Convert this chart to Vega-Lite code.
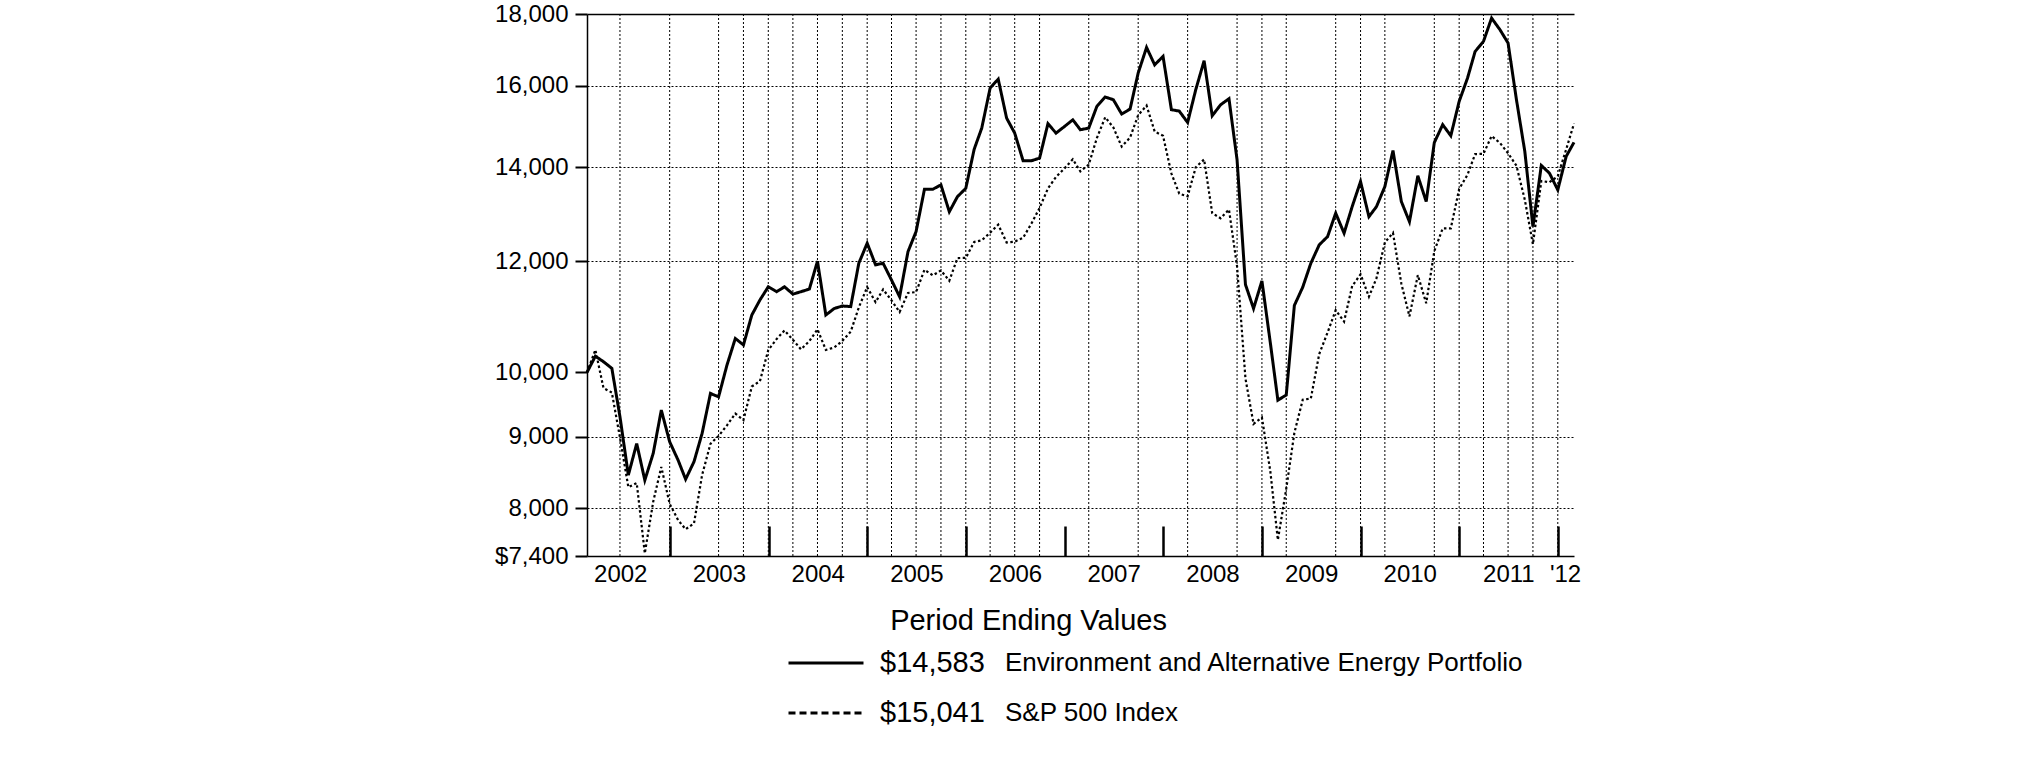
{
  "$schema": "https://vega.github.io/schema/vega-lite/v6.json",
  "width": 987,
  "height": 542,
  "autosize": {"type": "none"},
  "padding": {"left": 587, "top": 14, "right": 451, "bottom": 205},
  "background": "white",
  "config": {"view": {"stroke": null}, "font": "Liberation Sans"},
  "datasets": {
    "series": [
      {"key": "fund", "name": "Environment and Alternative Energy Portfolio", "ending": "$14,583"},
      {"key": "sp", "name": "S&P 500 Index", "ending": "$15,041"}
    ],
    "grid": [
      {"date": "2002-06-30"}, {"date": "2002-12-31"}, {"date": "2003-06-30"}, {"date": "2003-09-30"},
      {"date": "2003-12-31"}, {"date": "2004-03-31"}, {"date": "2004-06-30"}, {"date": "2004-09-30"},
      {"date": "2004-12-31"}, {"date": "2005-03-31"}, {"date": "2005-06-30"}, {"date": "2005-09-30"},
      {"date": "2005-12-31"}, {"date": "2006-03-31"}, {"date": "2006-06-30"}, {"date": "2006-09-30"},
      {"date": "2007-03-31"}, {"date": "2007-09-30"}, {"date": "2008-03-31"}, {"date": "2008-09-30"},
      {"date": "2008-12-31"}, {"date": "2009-03-31"}, {"date": "2009-09-30"}, {"date": "2009-12-31"},
      {"date": "2010-03-31"}, {"date": "2010-09-30"}, {"date": "2010-12-31"}, {"date": "2011-03-31"},
      {"date": "2011-06-30"}, {"date": "2011-09-30"}, {"date": "2011-12-31"}
    ],
    "perf": [
      {"date": "2002-02-28", "fund": 10000, "sp": 10000},
      {"date": "2002-03-31", "fund": 10270, "sp": 10376},
      {"date": "2002-04-30", "fund": 10177, "sp": 9747},
      {"date": "2002-05-31", "fund": 10067, "sp": 9675},
      {"date": "2002-06-30", "fund": 9300, "sp": 8986},
      {"date": "2002-07-31", "fund": 8450, "sp": 8285},
      {"date": "2002-08-31", "fund": 8899, "sp": 8340},
      {"date": "2002-09-30", "fund": 8380, "sp": 7433},
      {"date": "2002-10-31", "fund": 8755, "sp": 8088},
      {"date": "2002-11-30", "fund": 9400, "sp": 8564},
      {"date": "2002-12-31", "fund": 8924, "sp": 8061},
      {"date": "2003-01-31", "fund": 8661, "sp": 7850},
      {"date": "2003-02-28", "fund": 8393, "sp": 7732},
      {"date": "2003-03-31", "fund": 8637, "sp": 7807},
      {"date": "2003-04-30", "fund": 9048, "sp": 8451},
      {"date": "2003-05-31", "fund": 9661, "sp": 8896},
      {"date": "2003-06-30", "fund": 9607, "sp": 9010},
      {"date": "2003-07-31", "fund": 10120, "sp": 9168},
      {"date": "2003-08-31", "fund": 10573, "sp": 9347},
      {"date": "2003-09-30", "fund": 10460, "sp": 9248},
      {"date": "2003-10-31", "fund": 10987, "sp": 9771},
      {"date": "2003-11-30", "fund": 11260, "sp": 9857},
      {"date": "2003-12-31", "fund": 11508, "sp": 10374},
      {"date": "2004-01-31", "fund": 11415, "sp": 10565},
      {"date": "2004-02-29", "fund": 11508, "sp": 10712},
      {"date": "2004-03-31", "fund": 11370, "sp": 10550},
      {"date": "2004-04-30", "fund": 11415, "sp": 10385},
      {"date": "2004-05-31", "fund": 11465, "sp": 10527},
      {"date": "2004-06-30", "fund": 12000, "sp": 10731},
      {"date": "2004-07-31", "fund": 10987, "sp": 10376},
      {"date": "2004-08-31", "fund": 11105, "sp": 10417},
      {"date": "2004-09-30", "fund": 11150, "sp": 10530},
      {"date": "2004-10-31", "fund": 11140, "sp": 10691},
      {"date": "2004-11-30", "fund": 11960, "sp": 11124},
      {"date": "2004-12-31", "fund": 12360, "sp": 11502},
      {"date": "2005-01-31", "fund": 11930, "sp": 11221},
      {"date": "2005-02-28", "fund": 11960, "sp": 11457},
      {"date": "2005-03-31", "fund": 11636, "sp": 11254},
      {"date": "2005-04-30", "fund": 11320, "sp": 11041},
      {"date": "2005-05-31", "fund": 12190, "sp": 11392},
      {"date": "2005-06-30", "fund": 12600, "sp": 11408},
      {"date": "2005-07-31", "fund": 13504, "sp": 11832},
      {"date": "2005-08-31", "fund": 13504, "sp": 11725},
      {"date": "2005-09-30", "fund": 13600, "sp": 11820},
      {"date": "2005-10-31", "fund": 13015, "sp": 11622},
      {"date": "2005-11-30", "fund": 13340, "sp": 12062},
      {"date": "2005-12-31", "fund": 13525, "sp": 12066},
      {"date": "2006-01-31", "fund": 14420, "sp": 12386},
      {"date": "2006-02-28", "fund": 14928, "sp": 12419},
      {"date": "2006-03-31", "fund": 15940, "sp": 12573},
      {"date": "2006-04-30", "fund": 16177, "sp": 12742},
      {"date": "2006-05-31", "fund": 15175, "sp": 12375},
      {"date": "2006-06-30", "fund": 14806, "sp": 12392},
      {"date": "2006-07-31", "fund": 14150, "sp": 12469},
      {"date": "2006-08-31", "fund": 14150, "sp": 12766},
      {"date": "2006-09-30", "fund": 14210, "sp": 13095},
      {"date": "2006-10-31", "fund": 15036, "sp": 13522},
      {"date": "2006-11-30", "fund": 14806, "sp": 13779},
      {"date": "2006-12-31", "fund": 14966, "sp": 13972},
      {"date": "2007-01-31", "fund": 15133, "sp": 14183},
      {"date": "2007-02-28", "fund": 14888, "sp": 13905},
      {"date": "2007-03-31", "fund": 14928, "sp": 14061},
      {"date": "2007-04-30", "fund": 15468, "sp": 14684},
      {"date": "2007-05-31", "fund": 15709, "sp": 15197},
      {"date": "2007-06-30", "fund": 15640, "sp": 14945},
      {"date": "2007-07-31", "fund": 15276, "sp": 14482},
      {"date": "2007-08-31", "fund": 15403, "sp": 14699},
      {"date": "2007-09-30", "fund": 16340, "sp": 15249},
      {"date": "2007-10-31", "fund": 17040, "sp": 15491},
      {"date": "2007-11-30", "fund": 16560, "sp": 14844},
      {"date": "2007-12-31", "fund": 16790, "sp": 14741},
      {"date": "2008-01-31", "fund": 15385, "sp": 13856},
      {"date": "2008-02-29", "fund": 15350, "sp": 13406},
      {"date": "2008-03-31", "fund": 15066, "sp": 13348},
      {"date": "2008-04-30", "fund": 15897, "sp": 13998},
      {"date": "2008-05-31", "fund": 16672, "sp": 14180},
      {"date": "2008-06-30", "fund": 15233, "sp": 12985},
      {"date": "2008-07-31", "fund": 15510, "sp": 12876},
      {"date": "2008-08-31", "fund": 15665, "sp": 13062},
      {"date": "2008-09-30", "fund": 14170, "sp": 11898},
      {"date": "2008-10-31", "fund": 11550, "sp": 9900},
      {"date": "2008-11-30", "fund": 11105, "sp": 9189},
      {"date": "2008-12-31", "fund": 11620, "sp": 9287},
      {"date": "2009-01-31", "fund": 10500, "sp": 8504},
      {"date": "2009-02-28", "fund": 9555, "sp": 7598},
      {"date": "2009-03-31", "fund": 9635, "sp": 8264},
      {"date": "2009-04-30", "fund": 11160, "sp": 9055},
      {"date": "2009-05-31", "fund": 11500, "sp": 9561},
      {"date": "2009-06-30", "fund": 11960, "sp": 9580},
      {"date": "2009-07-31", "fund": 12326, "sp": 10305},
      {"date": "2009-08-31", "fund": 12495, "sp": 10677},
      {"date": "2009-09-30", "fund": 12985, "sp": 11075},
      {"date": "2009-10-31", "fund": 12565, "sp": 10869},
      {"date": "2009-11-30", "fund": 13125, "sp": 11521},
      {"date": "2009-12-31", "fund": 13675, "sp": 11744},
      {"date": "2010-01-31", "fund": 12910, "sp": 11321},
      {"date": "2010-02-28", "fund": 13125, "sp": 11672},
      {"date": "2010-03-31", "fund": 13564, "sp": 12376},
      {"date": "2010-04-30", "fund": 14388, "sp": 12571},
      {"date": "2010-05-31", "fund": 13234, "sp": 11567},
      {"date": "2010-06-30", "fund": 12804, "sp": 10962},
      {"date": "2010-07-31", "fund": 13804, "sp": 11730},
      {"date": "2010-08-31", "fund": 13234, "sp": 11201},
      {"date": "2010-09-30", "fund": 14578, "sp": 12200},
      {"date": "2010-10-31", "fund": 15012, "sp": 12664},
      {"date": "2010-11-30", "fund": 14742, "sp": 12665},
      {"date": "2010-12-31", "fund": 15596, "sp": 13511},
      {"date": "2011-01-31", "fund": 16207, "sp": 13831},
      {"date": "2011-02-28", "fund": 16926, "sp": 14305},
      {"date": "2011-03-31", "fund": 17210, "sp": 14311},
      {"date": "2011-04-30", "fund": 17880, "sp": 14735},
      {"date": "2011-05-31", "fund": 17542, "sp": 14568},
      {"date": "2011-06-30", "fund": 17162, "sp": 14325},
      {"date": "2011-07-31", "fund": 15640, "sp": 14034},
      {"date": "2011-08-31", "fund": 14365, "sp": 13272},
      {"date": "2011-09-30", "fund": 12700, "sp": 12339},
      {"date": "2011-10-31", "fund": 14040, "sp": 13688},
      {"date": "2011-11-30", "fund": 13866, "sp": 13658},
      {"date": "2011-12-31", "fund": 13490, "sp": 13797},
      {"date": "2012-01-31", "fund": 14250, "sp": 14415},
      {"date": "2012-02-29", "fund": 14583, "sp": 15041}
    ]
  },
  "layer": [
    {
      "data": {"name": "grid"},
      "mark": {"type": "rule", "color": "black", "strokeWidth": 1, "strokeDash": [2, 2]},
      "encoding": {
        "x": {
          "field": "date",
          "type": "temporal",
          "scale": {"type": "utc", "domain": [{"year": 2002, "month": 2, "date": 28, "utc": true}, {"year": 2012, "month": 2, "date": 29, "utc": true}]},
          "axis": {
            "orient": "bottom",
            "values": [
              {"year": 2003, "month": 1, "date": 1, "utc": true},
              {"year": 2004, "month": 1, "date": 1, "utc": true},
              {"year": 2005, "month": 1, "date": 1, "utc": true},
              {"year": 2006, "month": 1, "date": 1, "utc": true},
              {"year": 2007, "month": 1, "date": 1, "utc": true},
              {"year": 2008, "month": 1, "date": 1, "utc": true},
              {"year": 2009, "month": 1, "date": 1, "utc": true},
              {"year": 2010, "month": 1, "date": 1, "utc": true},
              {"year": 2011, "month": 1, "date": 1, "utc": true},
              {"year": 2012, "month": 1, "date": 1, "utc": true}
            ],
            "labels": false,
            "ticks": true,
            "tickSize": -30,
            "tickWidth": 2.5,
            "tickColor": "black",
            "domain": false,
            "grid": false,
            "title": null
          }
        }
      }
    },
    {
      "data": {"name": "perf"},
      "transform": [
        {"fold": ["fund", "sp"]},
        {"lookup": "key", "from": {"data": {"name": "series"}, "key": "key", "fields": ["name", "ending"]}}
      ],
      "mark": {"type": "line"},
      "encoding": {
        "x": {
          "field": "date",
          "type": "temporal",
          "scale": {"type": "utc", "domain": [{"year": 2002, "month": 2, "date": 28, "utc": true}, {"year": 2012, "month": 2, "date": 29, "utc": true}]},
          "axis": {
            "orient": "bottom",
            "values": [
              {"year": 2002, "month": 7, "date": 1, "utc": true},
              {"year": 2003, "month": 7, "date": 1, "utc": true},
              {"year": 2004, "month": 7, "date": 1, "utc": true},
              {"year": 2005, "month": 7, "date": 1, "utc": true},
              {"year": 2006, "month": 7, "date": 1, "utc": true},
              {"year": 2007, "month": 7, "date": 1, "utc": true},
              {"year": 2008, "month": 7, "date": 1, "utc": true},
              {"year": 2009, "month": 7, "date": 1, "utc": true},
              {"year": 2010, "month": 7, "date": 1, "utc": true},
              {"year": 2011, "month": 7, "date": 1, "utc": true},
              {"year": 2012, "month": 1, "date": 27, "utc": true}
            ],
            "labelExpr": "utcyear(datum.value) === 2012 ? \"'12\" : utcFormat(datum.value, '%Y')",
            "ticks": false,
            "grid": false,
            "domain": true,
            "domainColor": "black",
            "domainWidth": 1.5,
            "labelFontSize": 24,
            "labelColor": "black",
            "labelFlush": false,
            "labelOverlap": false,
            "labelPadding": 6,
            "title": "Period Ending Values",
            "titleFontSize": 29,
            "titleFontWeight": "normal",
            "titleColor": "black",
            "titleX": 441,
            "titleY": 64,
            "titleAlign": "center",
            "titleBaseline": "middle"
          }
        },
        "y": {
          "field": "value",
          "type": "quantitative",
          "scale": {"type": "log", "domain": [7400, 18000], "nice": false, "zero": false},
          "axis": {
            "values": [7400, 8000, 9000, 10000, 12000, 14000, 16000, 18000],
            "labelExpr": "datum.value === 7400 ? '$7,400' : format(datum.value, ',')",
            "labelFontSize": 24,
            "labelColor": "black",
            "labelPadding": 7,
            "labelOverlap": false,
            "tickSize": 12,
            "tickWidth": 2,
            "tickColor": "black",
            "domainColor": "black",
            "domainWidth": 1.5,
            "grid": true,
            "gridColor": "black",
            "gridDash": {"condition": {"test": "datum.value === 18000", "value": []}, "value": [2, 2]},
            "gridWidth": {"condition": {"test": "datum.value === 18000", "value": 1.5}, "value": 1},
            "gridOpacity": {"condition": {"test": "datum.value === 10000 || datum.value === 7400", "value": 0}, "value": 1},
            "title": null
          }
        },
        "strokeDash": {
          "field": "ending",
          "type": "nominal",
          "scale": {"domain": ["$14,583", "$15,041"], "range": [[1, 0], [2.5, 2.5]]},
          "legend": null
        },
        "color": {
          "field": "name",
          "type": "nominal",
          "scale": {"domain": ["Environment and Alternative Energy Portfolio", "S&P 500 Index"], "range": ["black", "black"]},
          "legend": {
            "orient": "none",
            "legendX": 392,
            "legendY": 624,
            "title": null,
            "symbolOpacity": 0,
            "symbolStrokeWidth": 0,
            "symbolSize": 1,
            "labelFontSize": 26,
            "labelColor": "black",
            "labelOffset": 0,
            "labelLimit": 1000,
            "clipHeight": 50,
            "rowPadding": 0
          }
        },
        "strokeWidth": {"condition": {"test": "datum.key === 'sp'", "value": 2.2}, "value": 3}
      }
    },
    {
      "data": {"name": "series"},
      "mark": {"type": "line", "color": "black", "strokeWidth": 3},
      "encoding": {
        "strokeDash": {
          "field": "ending",
          "type": "nominal",
          "scale": {"domain": ["$14,583", "$15,041"], "range": [[1, 0], [7, 4]]},
          "legend": {
            "orient": "none",
            "legendX": 200,
            "legendY": 624,
            "title": null,
            "symbolType": "stroke",
            "symbolSize": 5625,
            "symbolStrokeWidth": 3,
            "symbolStrokeColor": "black",
            "labelFontSize": 29,
            "labelColor": "black",
            "labelOffset": 15,
            "labelLimit": 1000,
            "clipHeight": 50,
            "rowPadding": 0
          }
        }
      }
    }
  ],
  "resolve": {"axis": {"x": "independent"}, "scale": {"strokeDash": "independent"}}
}
